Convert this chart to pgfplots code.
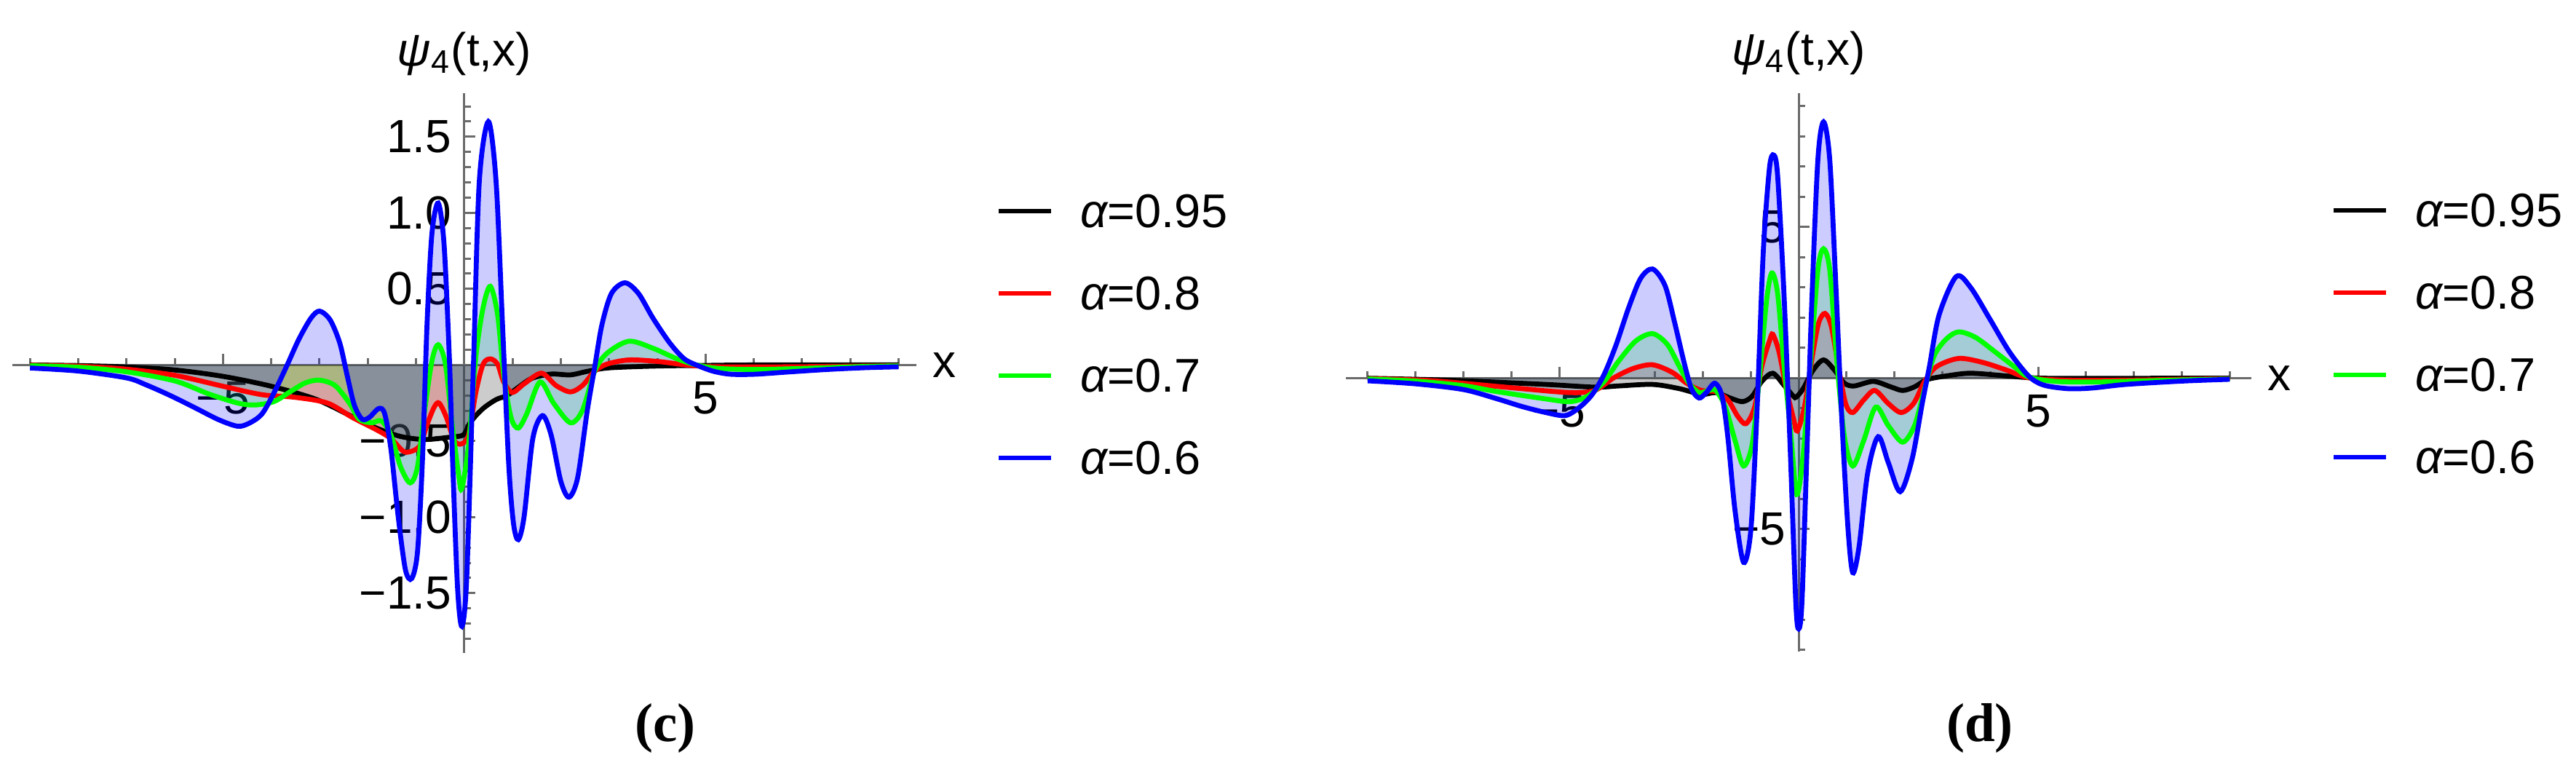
\documentclass[border=0pt]{standalone}
\usepackage{fontspec}
\setmainfont{Liberation Sans}
\newfontfamily\capfont{Liberation Serif}
\usepackage{pgfplots}
\usepackage{pgfplotstable}
\pgfplotsset{compat=1.18}
\definecolor{axgray}{rgb}{0.42,0.42,0.42}

% ---------------- panel (c) data ----------------
\pgfplotstableread{
x y
-9 0
-8 -0.004
-7 -0.013
-6 -0.033
-5 -0.075
-4 -0.14
-3.08 -0.225
-2.32 -0.34
-1.82 -0.415
-1.32 -0.47
-0.82 -0.49
-0.31 -0.475
-0.02 -0.46
0.1 -0.39
0.24 -0.333
0.39 -0.286
0.54 -0.251
0.69 -0.223
0.89 -0.2
1.12 -0.147
1.4 -0.088
1.8 -0.06
2.2 -0.065
2.55 -0.042
3.0 -0.019
4.0 -0.007
5 -0.003
6 0
9 0
}\cblack
\pgfplotstableread{
x y
-9 -0.002
-8 -0.008
-7 -0.028
-6 -0.068
-5 -0.14
-4.2 -0.195
-3.5 -0.213
-2.83 -0.251
-2.32 -0.345
-1.82 -0.426
-1.52 -0.484
-1.27 -0.566
-1.12 -0.57
-0.92 -0.531
-0.77 -0.391
-0.62 -0.275
-0.52 -0.251
-0.37 -0.345
-0.21 -0.496
-0.06 -0.519
0.088 -0.461
0.239 -0.181
0.39 0.005
0.54 0.04
0.69 0.005
0.817 -0.112
0.993 -0.181
1.244 -0.123
1.6 -0.054
1.9 -0.135
2.2 -0.177
2.45 -0.135
2.7 -0.042
2.95 0.005
3.41 0.033
4.01 0.023
4.66 -0.002
5.27 -0.012
6.67 -0.012
8 -0.008
9 -0.005
}\cred
\pgfplotstableread{
x y
-9 -0.005
-8 -0.015
-7 -0.045
-6 -0.105
-5.3 -0.19
-4.7 -0.25
-4.34 -0.263
-3.94 -0.24
-3.58 -0.17
-3.28 -0.116
-3.0 -0.1
-2.68 -0.135
-2.38 -0.251
-2.18 -0.356
-1.92 -0.38
-1.72 -0.368
-1.52 -0.461
-1.32 -0.67
-1.12 -0.775
-0.97 -0.67
-0.82 -0.298
-0.67 0.028
-0.54 0.133
-0.39 0.005
-0.26 -0.368
-0.11 -0.74
-0.05 -0.81
0.088 -0.531
0.239 0.051
0.39 0.377
0.54 0.517
0.69 0.331
0.817 -0.065
0.968 -0.345
1.118 -0.415
1.295 -0.321
1.57 -0.112
1.85 -0.251
2.2 -0.38
2.45 -0.298
2.7 -0.042
2.95 0.075
3.41 0.156
3.91 0.11
4.41 0.04
4.81 0.0
5.27 -0.023
6.02 -0.03
6.67 -0.026
7.5 -0.018
8.3 -0.01
9 -0.006
}\cgreen
\pgfplotstableread{
x y
-9 -0.02
-8 -0.04
-7 -0.085
-6.6 -0.13
-6.1 -0.2
-5.59 -0.28
-5.09 -0.36
-4.69 -0.403
-4.44 -0.38
-4.19 -0.321
-3.94 -0.181
-3.68 -0.007
-3.43 0.168
-3.18 0.307
-3.0 0.354
-2.78 0.296
-2.58 0.144
-2.43 -0.065
-2.28 -0.263
-2.12 -0.356
-1.97 -0.345
-1.77 -0.286
-1.65 -0.321
-1.52 -0.554
-1.37 -0.996
-1.22 -1.346
-1.09 -1.404
-0.97 -1.23
-0.87 -0.647
-0.77 0.284
-0.67 0.866
-0.54 1.064
-0.42 0.796
-0.31 0.051
-0.24 -0.647
-0.14 -1.462
-0.05 -1.718
0.05 -1.40
0.19 0.0
0.31 1.2
0.5 1.6
0.66 1.2
0.79 0.28
0.92 -0.647
1.02 -1.043
1.12 -1.148
1.24 -0.996
1.42 -0.484
1.62 -0.333
1.8 -0.461
2.0 -0.764
2.17 -0.869
2.35 -0.74
2.55 -0.298
2.7 -0.019
2.85 0.261
3.05 0.47
3.33 0.54
3.61 0.47
3.91 0.308
4.26 0.144
4.56 0.04
4.86 -0.007
5.17 -0.042
5.52 -0.061
6.02 -0.061
6.67 -0.047
7.5 -0.03
8.3 -0.018
9 -0.012
}\cblue

% ---------------- panel (d) data ----------------
\pgfplotstableread{
x y
-9 -0.005
-7.3 -0.07
-5.28 -0.21
-4.26 -0.3
-3.76 -0.26
-3.05 -0.21
-2.49 -0.35
-2.03 -0.54
-1.73 -0.48
-1.43 -0.66
-1.17 -0.78
-0.97 -0.6
-0.77 -0.11
-0.54 0.16
-0.31 -0.23
-0.11 -0.6
-0.05 -0.63
0.094 -0.35
0.3 0.26
0.52 0.6
0.75 0.26
0.955 -0.17
1.16 -0.26
1.56 -0.11
1.92 -0.29
2.17 -0.41
2.42 -0.29
2.68 -0.05
3.08 0.07
3.59 0.16
4.35 0.07
4.86 0.01
5.62 -0.01
9 0
}\dblack
\pgfplotstableread{
x y
-9 -0.02
-8 -0.06
-7.3 -0.13
-5.78 -0.35
-4.77 -0.48
-4.26 -0.41
-3.86 0.01
-3.45 0.32
-3.05 0.44
-2.64 0.19
-2.34 -0.17
-2.03 -0.41
-1.73 -0.45
-1.48 -0.72
-1.27 -1.27
-1.1 -1.51
-0.92 -0.96
-0.77 0.38
-0.61 1.23
-0.54 1.45
-0.41 0.86
-0.26 -0.35
-0.11 -1.33
-0.03 -1.75
0.12 -0.96
0.3 0.86
0.42 1.84
0.55 2.14
0.68 1.72
0.83 0.38
0.98 -0.84
1.13 -1.14
1.36 -0.72
1.59 -0.41
1.87 -0.84
2.14 -1.14
2.4 -0.84
2.63 -0.11
2.88 0.38
3.34 0.65
3.84 0.52
4.35 0.26
4.8 0.01
5.62 -0.07
6.83 -0.07
8 -0.04
9 -0.02
}\dred
\pgfplotstableread{
x y
-9 -0.03
-8 -0.1
-7 -0.25
-6.29 -0.45
-5.28 -0.69
-4.77 -0.78
-4.41 -0.6
-4.06 -0.11
-3.76 0.56
-3.4 1.23
-3.05 1.47
-2.74 1.11
-2.49 0.38
-2.29 -0.17
-2.08 -0.48
-1.88 -0.41
-1.73 -0.41
-1.53 -0.96
-1.33 -2.06
-1.15 -2.91
-0.97 -2.18
-0.82 0.01
-0.67 2.57
-0.56 3.48
-0.44 2.81
-0.31 0.5
-0.16 -1.94
-0.04 -3.85
0.094 -2.55
0.246 0.5
0.4 3.56
0.52 4.28
0.65 3.56
0.8 0.5
0.955 -1.94
1.13 -2.91
1.36 -2.06
1.61 -0.96
1.87 -1.57
2.17 -2.12
2.42 -1.57
2.63 -0.35
2.83 0.74
3.08 1.29
3.34 1.53
3.69 1.35
4.1 0.87
4.5 0.38
4.8 0.04
5.36 -0.11
6.12 -0.13
6.83 -0.11
8 -0.06
9 -0.03
}\dgreen
\pgfplotstableread{
x y
-9 -0.09
-8 -0.19
-7 -0.38
-6.29 -0.69
-5.78 -0.94
-5.28 -1.14
-4.87 -1.24
-4.57 -0.96
-4.31 -0.54
-4.06 0.13
-3.81 1.11
-3.55 2.33
-3.3 3.30
-3.05 3.61
-2.79 3.06
-2.59 1.84
-2.39 0.5
-2.24 -0.35
-2.08 -0.66
-1.93 -0.48
-1.75 -0.17
-1.6 -0.6
-1.48 -1.94
-1.33 -4.37
-1.15 -6.1
-0.996 -4.98
-0.87 -1.08
-0.74 4.15
-0.61 6.95
-0.52 7.38
-0.44 6.71
-0.31 2.9
-0.18 -2.2
-0.06 -7.42
0.0 -8.3
0.068 -7.42
0.17 -2.55
0.27 2.33
0.4 7.2
0.52 8.48
0.65 7.2
0.78 2.94
0.9 -1.33
1.03 -4.98
1.13 -6.44
1.26 -5.59
1.44 -3.15
1.66 -1.94
1.87 -2.79
2.12 -3.76
2.37 -2.67
2.58 -0.84
2.73 0.38
2.93 2.08
3.29 3.36
3.59 3.0
3.99 1.96
4.4 0.87
4.8 0.07
5.11 -0.23
5.62 -0.35
6.12 -0.33
6.83 -0.21
8 -0.1
9 -0.04
}\dblue

\pgfplotsset{
  psiaxis/.style={
    scale only axis,
    anchor=south west,
    axis lines=middle,
    axis line style={-, draw=axgray, line width=0.6pt},
    x axis line style={-}, y axis line style={-},
    tick align=inside,
    tick style={draw=axgray, line width=0.6pt},
    major tick length=3pt,
    minor tick length=1.8pt,
    xlabel={x},
    ylabel={{\itshape ψ}\textsubscript{4}(t,x)},
    every axis y label/.style={at={(axis description cs:0.5,1)}, anchor=south, yshift=1.4pt},
    xticklabel style={yshift=-1pt},
    legend style={at={(1.0885,0.819)}, anchor=north west, draw=none, fill=none,
      inner sep=0pt, outer sep=0pt, row sep=13.6pt, column sep=7.4pt,
      nodes={inner sep=0pt, text height=9pt, text depth=0pt, font=\fontsize{13}{15}\selectfont}},
    legend cell align=left,
    legend image code/.code={\draw[##1, line width=1.35pt] (0pt,0pt) -- (14.4pt,0pt);},
    fillplot/.style={draw=none, fill=##1, fill opacity=0.2, smooth, forget plot},
    lineplot/.style={draw=##1, line width=1.35pt, smooth, no markers},
  }
}

\begin{document}
\begin{tikzpicture}[font=\fontsize{12.8}{15}\selectfont]
\useasboundingbox (0,0) rectangle (707.8pt,211pt);

% ------------- (c) -------------
\begin{axis}[psiaxis,
  at={(3.34pt,31.6pt)}, width=248.46pt, height=153.74pt,
  xmin=-9.37, xmax=9.37, ymin=-1.893, ymax=1.785,
  every axis x label/.style={at={(axis cs:9.37,0)}, anchor=west, xshift=1pt},
  xtick={-5,5}, xticklabels={−5,5},
  minor xtick={-9,-8,-7,-6,-4,-3,-2,-1,1,2,3,4,6,7,8,9},
  ytick={-1.5,-1,-0.5,0.5,1,1.5},
  yticklabels={−1.5,−1.0,−0.5,0.5,1.0,1.5},
  minor ytick={-1.8,-1.7,-1.6,-1.4,-1.3,-1.2,-1.1,-0.9,-0.8,-0.7,-0.6,-0.4,-0.3,-0.2,-0.1,0.1,0.2,0.3,0.4,0.6,0.7,0.8,0.9,1.1,1.2,1.3,1.4,1.6,1.7},
]
\addplot[fillplot=black] table {\cblack} \closedcycle;
\addplot[fillplot=red] table {\cred} \closedcycle;
\addplot[fillplot=green] table {\cgreen} \closedcycle;
\addplot[fillplot=blue] table {\cblue} \closedcycle;
\addplot[lineplot=black] table {\cblack};
\addplot[lineplot=red] table {\cred};
\addplot[lineplot=green] table {\cgreen};
\addplot[lineplot=blue] table {\cblue};
\legend{{\itshape α}=0.95,{\itshape α}=0.8,{\itshape α}=0.7,{\itshape α}=0.6}
\end{axis}

% ------------- (d) -------------
\begin{axis}[psiaxis,
  at={(369.86pt,32pt)}, width=248.72pt, height=153.48pt,
  xmin=-9.45, xmax=9.45, ymin=-9.05, ymax=9.44,
  every axis x label/.style={at={(axis cs:9.45,0)}, anchor=west, xshift=1pt},
  xtick={-5,5}, xticklabels={−5,5},
  minor xtick={-9,-8,-7,-6,-4,-3,-2,-1,1,2,3,4,6,7,8,9},
  ytick={-5,5}, yticklabels={−5,5},
  minor ytick={-9,-8,-7,-6,-4,-3,-2,-1,1,2,3,4,6,7,8,9},
]
\addplot[fillplot=black] table {\dblack} \closedcycle;
\addplot[fillplot=red] table {\dred} \closedcycle;
\addplot[fillplot=green] table {\dgreen} \closedcycle;
\addplot[fillplot=blue] table {\dblue} \closedcycle;
\addplot[lineplot=black] table {\dblack};
\addplot[lineplot=red] table {\dred};
\addplot[lineplot=green] table {\dgreen};
\addplot[lineplot=blue] table {\dblue};
\legend{{\itshape α}=0.95,{\itshape α}=0.8,{\itshape α}=0.7,{\itshape α}=0.6}
\end{axis}

\node[font={\capfont\bfseries\fontsize{15}{18}\selectfont}] at (182.8pt,11pt) {(c)};
\node[font={\capfont\bfseries\fontsize{15}{18}\selectfont}] at (544pt,11pt) {(d)};
\end{tikzpicture}
\end{document}
